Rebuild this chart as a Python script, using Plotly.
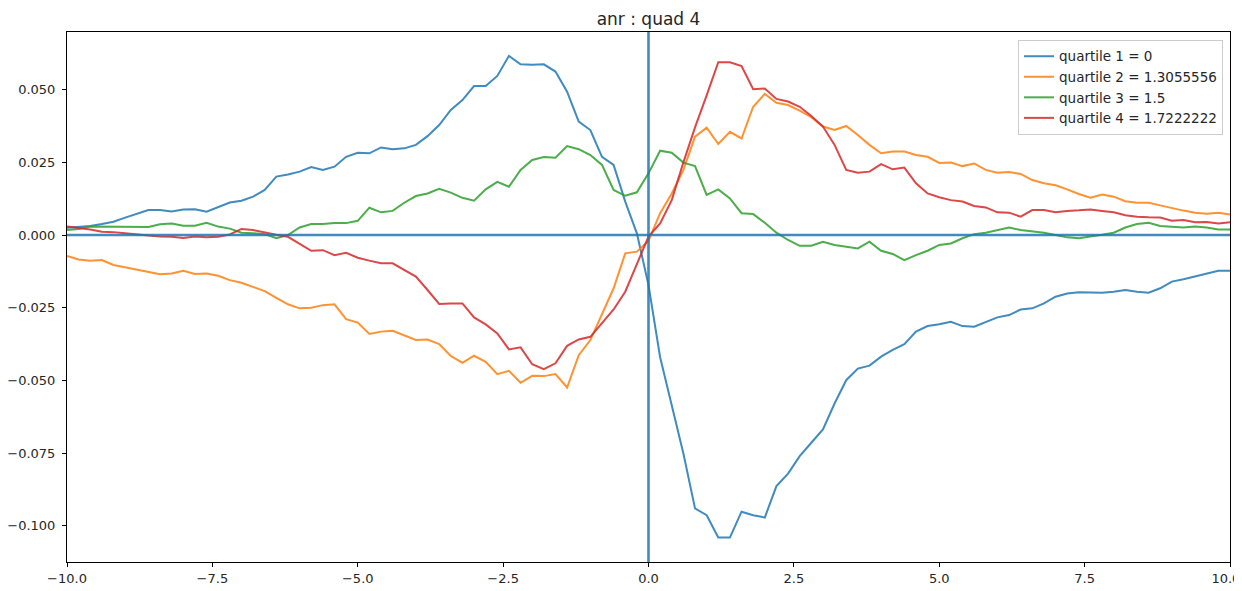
import numpy as np
import plotly.graph_objects as go

x_vals = [round(-10 + 0.2 * i, 1) for i in range(101)]

q1 = [0.0025, 0.0028, 0.0031, 0.0038, 0.0046, 0.006, 0.0072, 0.0086, 0.0086, 0.0081,
      0.0088, 0.0089, 0.0080, 0.0097, 0.0112, 0.0118, 0.0132, 0.0155, 0.0201, 0.0208,
      0.0218, 0.0234, 0.0224, 0.0235, 0.0269, 0.0283,
      0.0281, 0.0301, 0.0295, 0.0298, 0.031, 0.034, 0.0378, 0.043, 0.0464, 0.0512,
      0.0512, 0.0547, 0.0616, 0.0587, 0.0585, 0.0587, 0.0562, 0.0493, 0.039, 0.0361,
      0.0269, 0.0241, 0.0115, 0.0006, -0.0172,
      -0.042, -0.059, -0.0751, -0.094, -0.0963, -0.104, -0.104, -0.0951, -0.0963, -0.0971,
      -0.0863, -0.082, -0.076, -0.0714, -0.0668, -0.0579, -0.0499, -0.0459, -0.0449, -0.0418,
      -0.0395, -0.0375, -0.0332, -0.0313, -0.0307,
      -0.0298, -0.0313, -0.0315, -0.0298, -0.0283, -0.0275, -0.0256, -0.0252, -0.0235, -0.0212,
      -0.0201, -0.0197, -0.0198, -0.0198, -0.0195, -0.0189, -0.0195, -0.0198, -0.0183, -0.016,
      -0.0152, -0.0143, -0.0134, -0.0123, -0.0123]

q2 = [-0.0072, -0.0084, -0.0088, -0.0086, -0.0103, -0.0111, -0.012, -0.0128, -0.0135, -0.0132,
      -0.0123, -0.0134, -0.0132, -0.014, -0.0155, -0.0164, -0.0178, -0.0193, -0.0216, -0.0238,
      -0.0252, -0.025, -0.0241, -0.0238, -0.0289, -0.0301,
      -0.034, -0.0332, -0.0329, -0.0344, -0.0361, -0.0359, -0.0375, -0.0416, -0.0439, -0.0415,
      -0.0436, -0.0478, -0.0467, -0.0508, -0.0484, -0.0485, -0.0478, -0.0524, -0.0413, -0.0361,
      -0.0269, -0.0183, -0.0063, -0.0057, -0.002,
      0.0075, 0.0143, 0.0224, 0.0338, 0.0369, 0.0313, 0.0355, 0.0332, 0.0441, 0.0485,
      0.0455, 0.0447, 0.0428, 0.0405, 0.0373, 0.0361, 0.0375, 0.0344, 0.031, 0.0281,
      0.0287, 0.0287, 0.0275, 0.0269, 0.0248,
      0.0249, 0.0237, 0.0246, 0.0224, 0.0214, 0.0217, 0.021, 0.0189, 0.0178, 0.0171,
      0.0157, 0.0141, 0.0128, 0.0139, 0.0132, 0.0116, 0.0111, 0.0111, 0.0102, 0.0092,
      0.0084, 0.0077, 0.0073, 0.0077, 0.0071]

q3 = [0.0017, 0.0021, 0.0029, 0.0029, 0.0029, 0.0029, 0.003, 0.0028, 0.0037, 0.004,
      0.0032, 0.0032, 0.0042, 0.0029, 0.0022, 0.0008, 0.0006, 0.0003, -0.0011, 0.0,
      0.0026, 0.0038, 0.0038, 0.0041, 0.0041, 0.0049,
      0.0094, 0.0078, 0.0083, 0.0111, 0.0134, 0.0143, 0.0159, 0.0146, 0.0128, 0.0118,
      0.0157, 0.0183, 0.0166, 0.0224, 0.0258, 0.0268, 0.0266, 0.0306, 0.0295, 0.0275,
      0.0241, 0.0155, 0.0135, 0.0147, 0.0212,
      0.029, 0.0283, 0.0249, 0.0237, 0.0138, 0.0157, 0.0126, 0.0075, 0.0072, 0.0042,
      0.0008, -0.0017, -0.0037, -0.0037, -0.0023, -0.0034, -0.004, -0.0046, -0.0023, -0.0054,
      -0.0065, -0.0086, -0.0069, -0.0054, -0.0034,
      -0.0029, -0.0011, 0.0003, 0.0008, 0.0017, 0.0026, 0.0017, 0.0013, 0.0008, 0.0,
      -0.0008, -0.0011, -0.0006, 0.0001, 0.0008, 0.0026, 0.0038, 0.0042, 0.0031, 0.0029,
      0.0026, 0.0029, 0.0026, 0.0019, 0.0019]

q4 = [0.0029, 0.0025, 0.0019, 0.0011, 0.001, 0.0006, 0.0001, -0.0002, -0.0005, -0.0006,
      -0.001, -0.0005, -0.0008, -0.0006, 0.0002, 0.0021, 0.0017, 0.0008, 0.0001, -0.0006,
      -0.0029, -0.0054, -0.0052, -0.0069, -0.0061, -0.0078,
      -0.0088, -0.0097, -0.0097, -0.012, -0.0143, -0.0189, -0.0237, -0.0235, -0.0235, -0.0283,
      -0.0307, -0.0338, -0.0393, -0.0386, -0.0444, -0.0461, -0.0441, -0.0381, -0.0359, -0.035,
      -0.0304, -0.0256, -0.0195, -0.0103, -0.0005,
      0.004, 0.012, 0.025, 0.037, 0.048, 0.0594, 0.0594, 0.0581, 0.0501, 0.0504,
      0.0468, 0.0459, 0.0441, 0.0409, 0.0373, 0.031, 0.0224, 0.0214, 0.0218, 0.0244,
      0.0226, 0.0232, 0.0178, 0.0143, 0.013,
      0.012, 0.0115, 0.01, 0.0095, 0.0078, 0.0077, 0.0063, 0.0086, 0.0086, 0.0078,
      0.0083, 0.0085, 0.0088, 0.0083, 0.0078, 0.0068, 0.0063, 0.0061, 0.006, 0.0049,
      0.0052, 0.0044, 0.0045, 0.004, 0.0044]

series_names = ["quartile 1 = 0", "quartile 2 = 1.3055556",
                "quartile 3 = 1.5", "quartile 4 = 1.7222222"]
series_colors = ["#1f77b4", "#ff7f0e", "#2ca02c", "#d62728"]
series_values = [q1, q2, q3, q4]

x_ticks = [-10, -7.5, -5, -2.5, 0, 2.5, 5, 7.5, 10]
y_ticks = [-0.1, -0.075, -0.05, -0.025, 0.0, 0.025, 0.05]

font_family = "DejaVu Sans"
text_color = "#262626"

# the page body has an 8px default margin, so the figure is offset by 8px
fig_w, fig_h = 1234, 583

fig = go.Figure()
for name, color, vals in zip(series_names, series_colors, series_values):
    fig.add_trace(go.Scatter(x=x_vals, y=vals, mode="lines", name=name,
                             line=dict(color=color, width=2), opacity=0.85))

fig.add_hline(y=0, line=dict(color="#1f77b4", width=2.6), opacity=0.85)
fig.add_vline(x=0, line=dict(color="#1f77b4", width=2.6), opacity=0.85)

axis_common = dict(showgrid=False, zeroline=False, showline=True, linecolor="#000000",
                   linewidth=1, mirror=True, ticks="outside", ticklen=4, tickwidth=1,
                   tickcolor="#000000", automargin=False, ticklabeloverflow="allow",
                   tickfont=dict(family=font_family, size=13, color=text_color))

x_ticktext = [f"{v:.1f}".replace("-", "\u2212") for v in x_ticks]
# keep the last label inside the page edge
x_ticktext[-1] = x_ticktext[-1] + "\u00a0\u00a0"

fig.update_layout(
    width=fig_w, height=fig_h,
    margin=dict(l=59, r=12, t=24, b=29),
    paper_bgcolor="white", plot_bgcolor="white",
    title=dict(text="anr : quad 4", x=0.5, xref="paper", y=1 - 11 / fig_h, yref="container",
               xanchor="center", yanchor="middle",
               font=dict(family=font_family, size=17, color=text_color)),
    xaxis=dict(range=[-10, 10], tickvals=x_ticks, ticktext=x_ticktext, **axis_common),
    yaxis=dict(range=[-0.1124, 0.0698], tickvals=y_ticks, ticklabelstandoff=4,
               ticktext=[f"{v:.3f}".replace("-", "\u2212") for v in y_ticks], **axis_common),
    legend=dict(x=0.994, y=0.985, xanchor="right", yanchor="top", itemwidth=30,
                bgcolor="rgba(255,255,255,0.8)", bordercolor="#cccccc", borderwidth=1,
                font=dict(family=font_family, size=13.5, color=text_color)),
    showlegend=True,
)

fig.write_html("out.html")
